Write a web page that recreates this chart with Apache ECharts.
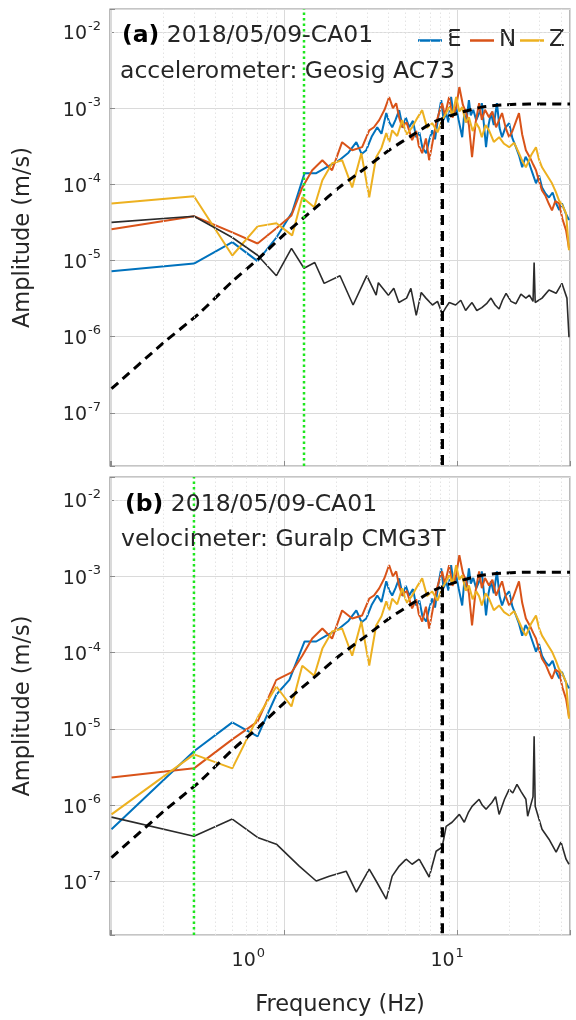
<!DOCTYPE html>
<html><head><meta charset="utf-8">
<script src="https://cdn.jsdelivr.net/npm/echarts@6/dist/echarts.min.js"></script>
<style>html,body{margin:0;padding:0;background:#fff}#c{width:576px;height:1020px}</style>
</head><body><div id="c"></div>
<script>
// ---------- axis ranges & tick labels ----------
const freqRange = [0.098, 45];          // Hz (log axis)
const ampRange = [2e-8, 2e-2];          // m/s (log axis)
const yTickExponents = [-7, -6, -5, -4, -3, -2];
const xTickExponents = [0, 1];
const componentNames = ['E', 'N', 'Z'];

// ---------- panel annotations ----------
const panelTags = ['(a)', '(b)'];
const panelEvent = ['2018/05/09-CA01', '2018/05/09-CA01'];
const panelInstr = ['accelerometer: Geosig AC73', 'velocimeter: Guralp CMG3T'];
const cornerFreq = 8.2;                 // vertical dashed line (Hz)
const cornerAmp = 7.2e-4;               // where it meets the model curve
const greenFreq = [1.3, 0.3];           // green dotted lines per panel

// ---------- spectra, shared high-frequency part (f >= ~1.3 Hz) ----------
const hiE = [[1.31,1.40e-4],[1.53,1.40e-4],[1.75,1.67e-4],[2.08,2.07e-4],[2.35,2.6e-4],[2.61,3.57e-4],[2.8,2.5e-4],[2.98,2.80e-4],[3.2,4.2e-4],[3.45,5.6e-4],[3.65,4.6e-4],[3.89,8.6e-4],[4.05,6.5e-4],[4.21,5.6e-4],[4.4,7.0e-4],[4.62,9.4e-4],[4.85,5.5e-4],[5.05,7.5e-4],[5.28,5.6e-4],[5.55,6.8e-4],[5.80,4.15e-4],[6.05,4.8e-4],[6.3,3.0e-4],[6.62,2.56e-4],[6.9,3.8e-4],[7.17,5.1e-4],[7.45,3.9e-4],[7.8,8.0e-4],[8.09,1.27e-3],[8.35,7.0e-4],[8.64,8.6e-4],[8.9,6.5e-4],[9.23,1.40e-3],[9.55,8.0e-4],[9.87,1.03e-3],[10.2,7.0e-4],[10.7,4.15e-4],[11.0,8.5e-4],[11.3,6.5e-4],[11.7,1.27e-3],[12.0,8.0e-4],[12.4,9.5e-4],[12.9,6.95e-4],[13.4,8.5e-4],[13.9,1.16e-3],[14.3,6.0e-4],[14.7,3.07e-4],[15.2,6.0e-4],[15.7,8.6e-4],[16.3,6.0e-4],[17.0,1.16e-3],[17.6,5.5e-4],[18.2,4.15e-4],[19.0,5.5e-4],[20.0,6.35e-4],[20.9,4.0e-4],[21.9,3.07e-4],[22.8,2.4e-4],[23.8,1.67e-4],[24.9,2.3e-4],[26.1,1.89e-4],[27.3,1.4e-4],[28.6,1.03e-4],[29.8,1.3e-4],[31.0,9.1e-5],[32.5,7.5e-5],[34.0,6.7e-5],[35.7,7.8e-5],[37.4,5.6e-5],[39.0,4.6e-5],[40.4,5.6e-5],[42.4,4.2e-5],[44.4,3.4e-5]];
const hiN = [[1.27,9.1e-5],[1.45,1.53e-4],[1.66,2.07e-4],[1.89,1.53e-4],[2.16,3.57e-4],[2.47,2.80e-4],[2.82,3.07e-4],[3.10,5.1e-4],[3.3,5.6e-4],[3.54,6.95e-4],[3.8,9.5e-4],[4.04,1.40e-3],[4.25,1.0e-3],[4.44,1.16e-3],[4.62,7.5e-4],[4.81,5.6e-4],[5.1,6.5e-4],[5.49,3.8e-4],[5.8,5.0e-4],[6.0,3.2e-4],[6.28,2.56e-4],[6.6,4.0e-4],[6.89,2.07e-4],[7.2,3.5e-4],[7.56,6.35e-4],[7.9,9.0e-4],[8.19,1.16e-3],[8.5,8.0e-4],[8.99,1.40e-3],[9.4,7.5e-4],[9.87,1.03e-3],[10.3,1.89e-3],[10.8,1.1e-3],[11.3,8.6e-4],[11.7,6.0e-4],[12.2,2.27e-4],[12.8,6.5e-4],[13.4,1.16e-3],[13.9,7.0e-4],[14.5,9.5e-4],[15.3,7.6e-4],[16.0,9.0e-4],[16.8,5.6e-4],[17.5,7.0e-4],[18.2,8.6e-4],[19.1,5.5e-4],[20.0,4.15e-4],[20.9,5.0e-4],[21.8,6.5e-4],[22.8,8.6e-4],[23.8,4.5e-4],[25.0,2.80e-4],[26.5,2.2e-4],[27.6,1.8e-4],[28.6,1.53e-4],[29.8,1.1e-4],[31.0,8.3e-5],[32.5,7.0e-5],[34.0,5.5e-5],[35.4,4.55e-5],[37.0,6.0e-5],[38.9,5.6e-5],[40.7,3.5e-5],[42.7,2.48e-5],[44.4,1.44e-5]];
const hiZ = [[1.27,6.75e-5],[1.49,4.98e-5],[1.66,1.13e-4],[1.89,1.89e-4],[2.16,2.07e-4],[2.47,9.1e-5],[2.79,2.56e-4],[3.10,6.75e-5],[3.40,2.27e-4],[3.65,3.0e-4],[3.89,4.7e-4],[4.05,3.6e-4],[4.21,5.1e-4],[4.5,4.3e-4],[4.81,6.95e-4],[5.1,4.5e-4],[5.49,5.6e-4],[5.9,7.5e-4],[6.28,9.4e-4],[6.7,5.5e-4],[7.17,6.35e-4],[7.7,4.8e-4],[8.19,6.95e-4],[8.6,8.5e-4],[8.99,1.03e-3],[9.4,8.0e-4],[9.87,1.40e-3],[10.3,9.0e-4],[10.7,1.03e-3],[11.2,6.5e-4],[11.7,7.6e-4],[12.3,5.0e-4],[12.9,6.35e-4],[13.4,5.5e-4],[13.9,4.15e-4],[14.6,6.0e-4],[15.3,5.1e-4],[16.3,3.6e-4],[17.5,4.15e-4],[18.7,3.4e-4],[20.0,3.07e-4],[21.4,3.5e-4],[22.8,2.56e-4],[23.9,2.0e-4],[25.0,1.67e-4],[26.8,2.4e-4],[28.6,3.07e-4],[29.8,2.1e-4],[31.0,1.67e-4],[33.2,1.3e-4],[35.4,1.03e-4],[37.2,8.0e-5],[38.9,6.1e-5],[40.8,5.2e-5],[42.7,4.15e-5],[44.4,1.36e-5]];

// ---------- low-frequency parts, per instrument ----------
const accE_low = [[0.1,7.2e-6],[0.3,9.1e-6],[0.5,1.74e-5],[0.7,9.8e-6],[0.9,2.0e-5],[1.11,4.3e-5]];
const accN_low = [[0.1,2.56e-5],[0.3,3.8e-5],[0.5,2.33e-5],[0.7,1.67e-5],[0.9,2.64e-5],[1.1,3.9e-5]];
const accZ_low = [[0.1,5.6e-5],[0.3,6.95e-5],[0.5,1.16e-5],[0.7,2.8e-5],[0.9,3.07e-5],[1.11,2.13e-5]];
const velE_low = [[0.1,4.85e-7],[0.3,5.1e-6],[0.5,1.22e-5],[0.7,8.0e-6],[0.9,2.83e-5],[1.07,4.4e-5]];
const velN_low = [[0.1,2.32e-6],[0.3,3.05e-6],[0.5,7.3e-6],[0.7,1.25e-5],[0.9,4.4e-5],[1.1,5.5e-5]];
const velZ_low = [[0.1,7.6e-7],[0.3,4.65e-6],[0.5,3.05e-6],[0.7,1.41e-5],[0.9,3.6e-5],[1.1,1.97e-5]];

// ---------- pre-event noise ----------
const accNoise = [[0.1,3.16e-5],[0.3,3.8e-5],[0.5,2.0e-5],[0.7,1.17e-5],[0.9,6.3e-6],[1.1,1.44e-5],[1.3,7.9e-6],[1.5,9.4e-6],[1.7,5.0e-6],[2.1,6.3e-6],[2.5,2.6e-6],[3.0,6.3e-6],[3.4,3.5e-6],[3.5,5.1e-6],[4.0,3.5e-6],[4.3,4.3e-6],[4.6,2.8e-6],[5.1,3.2e-6],[5.4,4.3e-6],[5.8,1.9e-6],[6.2,3.8e-6],[6.6,3.2e-6],[7.2,2.6e-6],[7.7,2.9e-6],[8.2,2.0e-6],[8.6,2.4e-6],[9.0,2.8e-6],[9.8,2.6e-6],[10.5,3.0e-6],[11.2,2.2e-6],[11.7,2.5e-6],[12.2,2.8e-6],[13.0,2.2e-6],[13.9,2.4e-6],[14.8,2.7e-6],[15.7,3.2e-6],[16.6,2.6e-6],[17.5,2.3e-6],[18.3,3.0e-6],[19.2,3.7e-6],[20.5,2.9e-6],[21.9,2.7e-6],[23.4,3.6e-6],[25.0,3.2e-6],[26.2,3.5e-6],[27.5,2.9e-6],[27.9,9.4e-6],[28.3,2.8e-6],[29.0,2.8e-6],[31.0,3.2e-6],[34.0,4.1e-6],[37.4,3.7e-6],[40.4,5.0e-6],[43.2,3.2e-6],[44.4,9.8e-7]];
const velNoise = [[0.1,7.0e-7],[0.3,3.94e-7],[0.5,6.6e-7],[0.7,3.8e-7],[0.9,3.1e-7],[1.22,1.6e-7],[1.53,1.02e-7],[1.82,1.18e-7],[2.28,1.37e-7],[2.61,7.3e-8],[3.10,1.46e-7],[3.40,1.02e-7],[3.89,5.9e-8],[4.21,1.18e-7],[4.62,1.6e-7],[5.07,1.97e-7],[5.49,1.69e-7],[6.03,1.97e-7],[6.89,1.15e-7],[7.56,2.5e-7],[8.19,2.83e-7],[8.64,5.3e-7],[9.35,6.0e-7],[10.3,7.6e-7],[11.0,6.0e-7],[11.6,8.0e-7],[12.2,9.7e-7],[13.4,1.2e-6],[14.0,1.0e-6],[14.7,8.9e-7],[15.9,1.09e-6],[16.7,1.3e-6],[17.5,7.6e-7],[18.8,1.2e-6],[20.0,1.62e-6],[21.0,1.45e-6],[22.2,1.88e-6],[23.5,1.5e-6],[25.0,1.2e-6],[25.6,7.2e-7],[27.5,1.3e-6],[27.9,8.0e-6],[28.3,9.7e-7],[31.0,4.85e-7],[34.0,3.6e-7],[37.4,2.43e-7],[39.9,3.3e-7],[42.7,1.97e-7],[44.4,1.69e-7]];

// ---------- source model (black dashed) ----------
const modelCurve = [[0.1,2.07e-7],[0.2,8.3e-7],[0.32,2.0e-6],[0.5,5.3e-6],[0.7,1.03e-5],[1.0,2.2e-5],[1.27,3.5e-5],[1.53,5.0e-5],[2.08,9.1e-5],[2.98,1.66e-4],[4.04,2.8e-4],[5.49,4.4e-4],[7.17,6.4e-4],[8.64,7.6e-4],[10.7,8.9e-4],[13.9,1.03e-3],[18.2,1.10e-3],[26.1,1.13e-3],[45,1.13e-3]];

// ---------- build ----------
const FONT = 'DejaVu Sans';
const TXT = '#262626';
const COLORS = {E:'#0072BD', N:'#D95319', Z:'#EDB120'};

const panelSpectra = [
  {E: accE_low.concat(hiE), N: accN_low.concat(hiN), Z: accZ_low.concat(hiZ), noise: accNoise},
  {E: velE_low.concat(hiE), N: velN_low.concat(hiN), Z: velZ_low.concat(hiZ), noise: velNoise}
];

// minor grid positions (2..9 x 10^k inside ranges)
const xMinor = [], yMinor = [];
for (let k = -2; k <= 2; k++) for (let m = 2; m <= 9; m++) {
  const v = m * Math.pow(10, k);
  if (v > freqRange[0] && v < freqRange[1]) xMinor.push(v);
}
for (let k = -9; k <= -1; k++) for (let m = 2; m <= 9; m++) {
  const v = m * Math.pow(10, k);
  if (v > ampRange[0] * 1.0001 && v < ampRange[1] * 0.9999) yMinor.push(v);
}

function isPow(v) { const l = Math.log10(v); return Math.abs(l - Math.round(l)) < 1e-6; }
function yFmt(v) {
  if (!isPow(v)) return '';
  const e = Math.round(Math.log10(v));
  if (yTickExponents.indexOf(e) < 0) return '';
  return '{b|10}{s|' + e + '}';
}
function xFmt(v) {
  if (!isPow(v)) return '';
  const e = Math.round(Math.log10(v));
  if (xTickExponents.indexOf(e) < 0) return '';
  return '{b|10}{s' + e + '|' + e + '}';
}
const baseRich = {fontSize: 19, fontFamily: FONT, color: TXT, lineHeight: 20, padding: [8, 0, 0, 0], verticalAlign: 'bottom'};
const supRich = {fontSize: 13, fontFamily: FONT, color: TXT, lineHeight: 24, verticalAlign: 'top', padding: [0, 0, 0, 1]};

const grids = [
  {left: 110, top: 9, width: 460, height: 457, show: true, borderColor: '#8c8c8c', borderWidth: 1.2, backgroundColor: '#fff'},
  {left: 110, top: 477, width: 460, height: 458, show: true, borderColor: '#8c8c8c', borderWidth: 1.2, backgroundColor: '#fff'}
];
const xAxes = [0, 1].map(i => ({
  type: 'log', gridIndex: i, min: freqRange[0], max: freqRange[1],
  axisLine: {show: false},
  axisTick: {show: true, inside: true, length: 5, lineStyle: {color: '#8c8c8c'}},
  splitLine: {show: true, lineStyle: {color: '#dadada', width: 1}},
  axisLabel: {show: i === 1, margin: 12, formatter: xFmt,
    rich: {b: baseRich, s0: Object.assign({}, supRich, {padding: [0, 72, 0, 1]}), s1: Object.assign({}, supRich, {padding: [0, 20, 0, 1]})}},
  name: i === 1 ? 'Frequency (Hz)' : '', nameLocation: 'middle', nameGap: 59,
  nameTextStyle: {fontSize: 22.5, fontFamily: FONT, color: TXT}
}));
const yAxes = [0, 1].map(i => ({
  type: 'log', gridIndex: i, min: ampRange[0], max: ampRange[1],
  axisLine: {show: false},
  axisTick: {show: true, inside: true, length: 5, lineStyle: {color: '#8c8c8c'}},
  splitLine: {show: true, lineStyle: {color: '#dadada', width: 1}},
  axisLabel: {margin: 9, formatter: yFmt, rich: {b: baseRich, s: supRich}},
  name: 'Amplitude (m/s)', nameLocation: 'middle', nameGap: 75,
  nameTextStyle: {fontSize: 22.5, fontFamily: FONT, color: TXT}
}));

const series = [];
[0, 1].forEach(i => {
  // minor grid (dotted) via markLine on a carrier series
  series.push({
    type: 'line', xAxisIndex: i, yAxisIndex: i, data: [[1, 1e-5]], symbol: 'none', silent: true,
    lineStyle: {opacity: 0}, z: 1,
    markLine: {silent: true, symbol: 'none', label: {show: false}, animation: false,
      lineStyle: {color: '#e4e4e4', type: [1.5, 2.5], width: 1},
      data: xMinor.map(v => ({xAxis: v})).concat(yMinor.map(v => ({yAxis: v})))}
  });
  componentNames.forEach(c => {
    series.push({
      name: c, type: 'line', xAxisIndex: i, yAxisIndex: i, data: panelSpectra[i][c],
      symbol: 'none', showSymbol: false, z: 3,
      lineStyle: {color: COLORS[c], width: 2}, itemStyle: {color: COLORS[c]}
    });
  });
  series.push({
    name: 'noise', type: 'line', xAxisIndex: i, yAxisIndex: i, data: panelSpectra[i].noise,
    symbol: 'none', z: 3, lineStyle: {color: '#2b2b2b', width: 1.6}, itemStyle: {color: '#2b2b2b'}
  });
  series.push({
    name: 'model', type: 'line', xAxisIndex: i, yAxisIndex: i, data: modelCurve, smooth: 0.25,
    symbol: 'none', z: 4, lineStyle: {color: '#000', width: 3, type: [9, 6]}
  });
  series.push({
    name: 'fc', type: 'line', xAxisIndex: i, yAxisIndex: i, data: [[cornerFreq, cornerAmp], [cornerFreq, ampRange[0]]],
    symbol: 'none', z: 4, lineStyle: {color: '#000', width: 3.5, type: [10, 6]}
  });
  series.push({
    name: 'fmin', type: 'line', xAxisIndex: i, yAxisIndex: i, data: [[greenFreq[i], ampRange[0]], [greenFreq[i], ampRange[1]]],
    symbol: 'none', z: 5, lineStyle: {color: '#1ee61e', width: 2.5, type: [2.5, 3]}
  });
});

const graphic = [];
[[122, 36, 120, 72], [125, 505, 121, 540]].forEach((p, i) => {
  graphic.push({type: 'text', x: p[0], y: p[1], z: 100, style: {
    text: '{t|' + panelTags[i] + '} ' + panelEvent[i], fontSize: 23.5, fontFamily: FONT, fill: TXT, verticalAlign: 'middle',
    rich: {t: {fontSize: 23.5, fontFamily: FONT, fontWeight: 'bold', fill: '#000'}}}});
  graphic.push({type: 'text', x: p[2], y: p[3], z: 100, style: {
    text: panelInstr[i], fontSize: 23.5, fontFamily: FONT, fill: TXT, verticalAlign: 'middle'}});
});

// one legend per component so each entry sits where the reference has it
const legendLeft = [413, 465, 515];
const legends = componentNames.map((c, k) => ({
  data: [c], left: legendLeft[k], top: 24, icon: 'rect', itemWidth: 24, itemHeight: 2.5, selectedMode: false,
  textStyle: {fontSize: 23, fontFamily: FONT, color: TXT}
}));

const chart = echarts.init(document.getElementById('c'));
chart.setOption({
  animation: false,
  backgroundColor: '#fff',
  grid: grids, xAxis: xAxes, yAxis: yAxes, series: series, graphic: graphic, legend: legends
});
</script></body></html>
